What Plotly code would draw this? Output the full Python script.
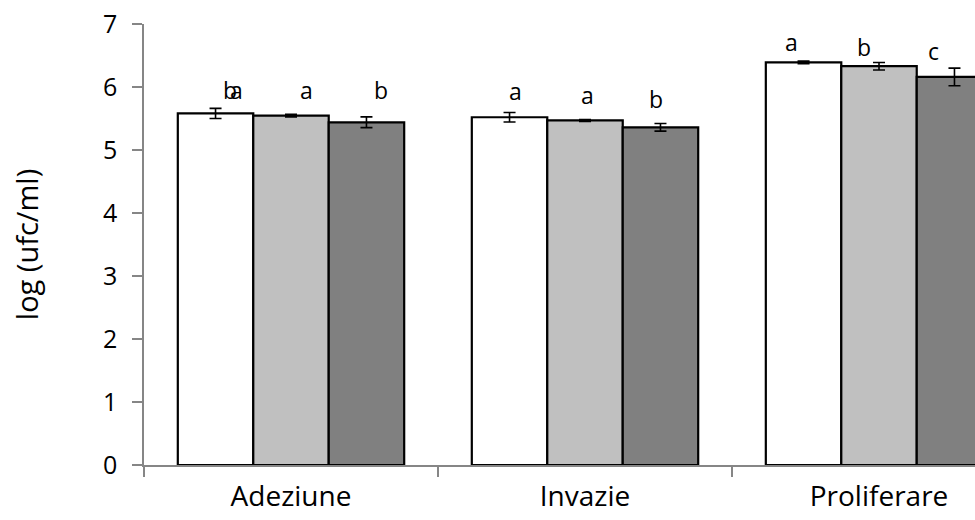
import plotly.graph_objects as go

# Groups on the x axis
categories = ["Adeziune", "Invazie", "Proliferare"]

# Mean log counts per treatment series and their standard errors
series_names = ["Serie 1", "Serie 2", "Serie 3"]
values_s1 = [5.58, 5.52, 6.39]
values_s2 = [5.545, 5.47, 6.33]
values_s3 = [5.44, 5.36, 6.16]
errors_s1 = [0.08, 0.075, 0.02]
errors_s2 = [0.02, 0.015, 0.06]
errors_s3 = [0.085, 0.06, 0.14]

# Significance letters (one per bar)
letters_s1 = ["b", "a", "a"]
letters_s2 = ["a", "a", "b"]
letters_s3 = ["b", "b", "c"]
extra_letter_s1 = ["a", "", ""]  # second, overlapping letter on the first bar

y_ticks = [0, 1, 2, 3, 4, 5, 6, 7]
y_title = "log (ufc/ml)"

AXIS_GREY = "#868686"
FONT = "Open Sans"

fills = ["#FFFFFF", "#C0C0C0", "#808080"]
values = [values_s1, values_s2, values_s3]
errors = [errors_s1, errors_s2, errors_s3]

fig = go.Figure()
for name, vals, errs, fill in zip(series_names, values, errors, fills):
    fig.add_trace(go.Bar(
        name=name,
        x=categories,
        y=vals,
        marker=dict(color=fill, line=dict(color="#000000", width=2.2)),
        error_y=dict(type="data", array=errs, visible=True,
                     color="#000000", thickness=1.6, width=6),
    ))

# Letter placement: (category index + horizontal nudge, height in data units)
letter_layout = [
    [(-0.208, 5.95), (0.762, 5.93), (1.704, 6.72)],
    [(0.051, 5.95), (1.010, 5.87), (1.949, 6.63)],
    [(0.306, 5.95), (1.2415, 5.81), (2.187, 6.57)],
]
extra_letter_layout = [(-0.187, 5.95), None, None]

annotations = []
for letters, places in zip([letters_s1, letters_s2, letters_s3], letter_layout):
    for txt, (lx, ly) in zip(letters, places):
        annotations.append(dict(x=lx, y=ly, xref="x", yref="y", text=txt,
                                showarrow=False, yanchor="middle",
                                font=dict(family=FONT, size=23, color="#000000")))
for txt, place in zip(extra_letter_s1, extra_letter_layout):
    if txt and place:
        annotations.append(dict(x=place[0], y=place[1], xref="x", yref="y", text=txt,
                                showarrow=False, yanchor="middle",
                                font=dict(family=FONT, size=23, color="#000000")))

fig.update_layout(
    width=975, height=520,
    margin=dict(l=144, r=0, t=24, b=55),
    paper_bgcolor="#FFFFFF", plot_bgcolor="#FFFFFF",
    barmode="group", bargap=0.23, bargroupgap=0,
    showlegend=False,
    font=dict(family=FONT, color="#000000"),
    annotations=annotations,
)
fig.update_xaxes(
    type="category", range=[-0.5, 2.3265],
    showline=True, linecolor=AXIS_GREY, linewidth=1.5,
    ticks="outside", tickson="boundaries", ticklen=10,
    tickcolor=AXIS_GREY, tickwidth=1.5,
    tickfont=dict(family=FONT, size=28, color="#000000"),
    ticklabelstandoff=6,
    showgrid=False, zeroline=False,
)
fig.update_yaxes(
    range=[0, 7], tickvals=y_ticks,
    showline=True, linecolor=AXIS_GREY, linewidth=1.5,
    ticks="outside", ticklen=10, tickcolor=AXIS_GREY, tickwidth=1.5,
    tickfont=dict(family=FONT, size=25, color="#000000"),
    ticklabelstandoff=10,
    showgrid=False, zeroline=False,
    title=dict(text=y_title, font=dict(family=FONT, size=29, color="#000000"),
               standoff=56),
)

fig.write_html("out.html")
